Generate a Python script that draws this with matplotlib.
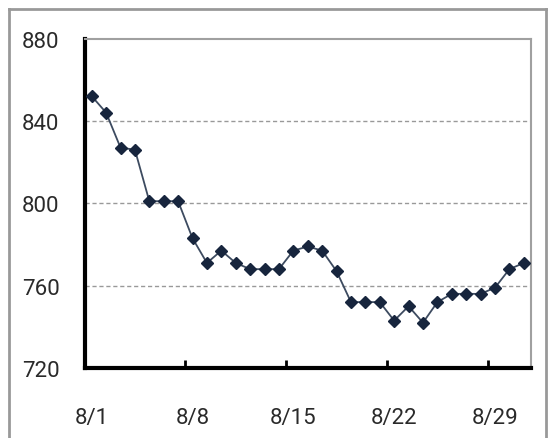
import matplotlib
matplotlib.use("Agg")
import matplotlib.pyplot as plt
from matplotlib.lines import Line2D

dates = [f"8/{d}" for d in range(1, 32)]
values = [852, 844, 827, 826, 801, 801, 801, 783, 771, 777, 771, 768, 768, 768,
          777, 779, 777, 767, 752, 752, 752, 743, 750, 742, 752, 756, 756, 756,
          759, 768, 771]
tick_labels = ["8/1", "8/8", "8/15", "8/22", "8/29"]
y_ticks = [720, 760, 800, 840, 880]

plt.rcParams['font.family'] = ['Roboto', 'DejaVu Sans']

W, H = 548, 439
fig = plt.figure(figsize=(W / 100, H / 100), dpi=100)
L, R, T, B = 84.5, 531, 39.5, 369
ax = fig.add_axes([L / W, 1 - B / H, (R - L) / W, (B - T) / H])

x = list(range(len(values)))
ax.plot(x, values, color="#3d4b60", lw=1.3, marker="D", markersize=6,
        markerfacecolor="#17253d", markeredgecolor="#17253d", zorder=3)

ax.set_xlim(-0.5, len(values) - 0.5)
ax.set_ylim(720, 880)
ax.set_yticks(y_ticks)
ax.set_yticklabels([str(v) for v in y_ticks])
ax.tick_params(axis="y", length=0, pad=18, labelsize=16, labelcolor="#2a2a2a")

label_pos = [dates.index(t) for t in tick_labels]
ax.set_xticks(label_pos)
ax.set_xticklabels(tick_labels)
ax.tick_params(axis="x", length=0, pad=28, labelsize=16, labelcolor="#2a2a2a")
ax.set_xticks([6.5, 13.5, 20.5, 27.5], minor=True)
ax.tick_params(axis="x", which="minor", direction="in", length=6, width=2, color="black")

for v in [760, 800, 840]:
    ax.axhline(v, color="#999999", lw=1, ls=(0, (3, 2)), zorder=1)

ax.spines["left"].set_linewidth(3)
ax.spines["left"].set_color("black")
ax.spines["bottom"].set_linewidth(3)
ax.spines["bottom"].set_color("black")
ax.spines["top"].set_linewidth(1.5)
ax.spines["top"].set_color("#a0a0a0")
ax.spines["right"].set_linewidth(1.5)
ax.spines["right"].set_color("#a0a0a0")

# outer chart frame
fx0, fy0, fx1 = 9 / W, 1 - 10 / H, 546 / W
fig.add_artist(Line2D([fx0, fx0], [0, fy0], color="#999999", lw=2, transform=fig.transFigure))
fig.add_artist(Line2D([fx0, fx1], [fy0, fy0], color="#999999", lw=2, transform=fig.transFigure))
fig.add_artist(Line2D([fx1, fx1], [0, fy0], color="#999999", lw=2, transform=fig.transFigure))

fig.savefig("out.png", dpi=100)
